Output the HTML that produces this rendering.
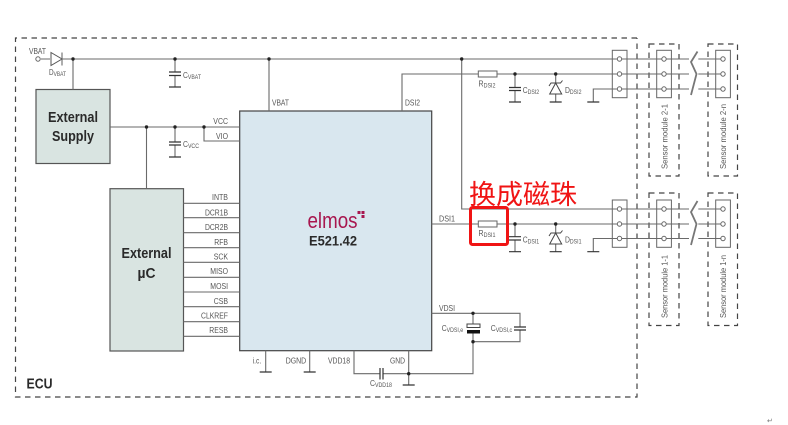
<!DOCTYPE html>
<html><head><meta charset="utf-8">
<style>
html,body{margin:0;padding:0;background:#fff;width:788px;height:425px;overflow:hidden}
svg{display:block;filter:blur(.3px)}
text{font-family:"Liberation Sans",Arial,sans-serif;font-size:8.5px;fill:#555}
.b{font-weight:bold;fill:#2a2a2a;font-size:14.5px}
.s{font-size:6.5px}
.l{stroke:#6a6a6a;stroke-width:1.1;fill:none}
.k{stroke:#333;stroke-width:1.2;fill:none}
.d{stroke:#444;stroke-width:1.2;fill:none;stroke-dasharray:5.5 4.5}
.j{fill:#222}
.c{fill:#fff;stroke:#666;stroke-width:1}
</style></head><body>
<svg width="788" height="425" viewBox="0 0 788 425" xmlns="http://www.w3.org/2000/svg">
<rect width="788" height="425" fill="#fff"/>
<!-- dashed frames -->
<path class="d" d="M637 38H15.5V397H637V38"/>
<rect class="d" x="649" y="44" width="30" height="132"/>
<rect class="d" x="708" y="44" width="29.500" height="132"/>
<rect class="d" x="649" y="193" width="30" height="132.500"/>
<rect class="d" x="708" y="193" width="29.500" height="132.500"/>

<!-- boxes -->
<rect x="36" y="89.500" width="74" height="74" fill="#d9e4e1" stroke="#555" stroke-width="1.200"/>
<rect x="110" y="188.700" width="73.500" height="162.300" fill="#d9e4e1" stroke="#555" stroke-width="1.200"/>
<rect x="239.700" y="111" width="192" height="239.700" fill="#d9e7ef" stroke="#444" stroke-width="1.200"/>

<!-- wires -->
<path class="l" d="M41 59H50M62 59H612M73 59V89.500M269 59V111M175 59V72M175 75.500V87"/>
<path class="l" d="M110 127H239.700M146.500 127V188.700M175 127V142M175 145V157M204 127V141H239.700"/>
<path class="l" d="M183.500 203.300H239.700M183.500 217.700H239.700M183.500 232.700H239.700M183.500 247.700H239.700M183.500 262.300H239.700M183.500 277.300H239.700M183.500 292H239.700M183.500 306.700H239.700M183.500 321.700H239.700M183.500 336.300H239.700"/>
<path class="l" d="M402 111V74H478M497 74H612M515 74V87.500M515 90.500V102M555.700 74V102"/>
<path class="l" d="M461.700 59V209H612M593.300 102V89H612"/>
<path class="l" d="M431.700 224H478M497 224H612M515 224V236.700M515 240V251.700M555.700 224V251.700"/>
<path class="l" d="M593.300 251.700V238.500H612"/>
<path class="l" d="M431.700 313.300H520V327M520 330V341.700H473M473 313.300V324M473 333V373.700H383M380 373.700H354V350.700M408.700 350.700V385M265.700 350.700V372M309.700 350.700V372"/>
<!-- through connectors -->
<path class="l" d="M612 59H689M612 74H689M612 89H689M698.300 59H723M698.300 74H723M698.300 89H723"/>
<path class="l" d="M612 209H689M612 224H689M612 238.500H689M698.300 209H723M698.300 224H723M698.300 238.500H723"/>
<!-- break marks -->
<path d="M697.500 51.500L691 62L696.500 74L691 95" fill="none" stroke="#777" stroke-width="1.800"/>
<path d="M697.500 201L691 212L696.500 224L691 245" fill="none" stroke="#777" stroke-width="1.800"/>

<!-- grounds -->
<path class="k" d="M169 87H181M169 157H181M509 102H521M549.700 102H561.700M587.300 102H599.300M509 251.700H521M549.700 251.700H561.700M587.300 251.700H599.300M402.700 385H414.700M259.700 372H271.700M303.700 372H315.700"/>
<!-- caps -->
<path class="k" d="M169 72H181M169 75.500H181M169 142H181M169 145H181M509 87.500H521M509 90.500H521M509 236.700H521M509 240H521M514 327H526M514 330H526M380 368V379.500M383 368V379.500"/>
<rect x="467" y="324" width="13" height="3.500" fill="#fff" stroke="#444"/>
<rect x="467" y="330" width="13" height="3.500" fill="#111"/>

<!-- resistors -->
<rect x="478.300" y="71" width="18.700" height="6" fill="#fff" stroke="#666"/>
<rect x="478.300" y="221" width="18.700" height="6" fill="#fff" stroke="#666"/>

<!-- diodes -->
<path d="M51 52.500L62 59L51 65.500Z" fill="#fff" stroke="#555"/><path class="l" d="M62 52.500V65.500"/>
<g fill="#fff" stroke="#444" stroke-width="1">
<path d="M555.700 83L549.700 94H561.700Z"/><path d="M549 86L551 83H560.500L562.500 80.500" fill="none"/>
<path d="M555.700 233L549.700 244H561.700Z"/><path d="M549 236L551 233H560.500L562.500 230.500" fill="none"/>
</g>

<!-- junctions -->
<g class="j">
<circle cx="73" cy="59" r="1.700"/><circle cx="175" cy="59" r="1.700"/><circle cx="269" cy="59" r="1.700"/><circle cx="461.700" cy="59" r="1.700"/>
<circle cx="146.500" cy="127" r="1.700"/><circle cx="175" cy="127" r="1.700"/><circle cx="204" cy="127" r="1.700"/>
<circle cx="515" cy="74" r="1.700"/><circle cx="555.700" cy="74" r="1.700"/><circle cx="515" cy="224" r="1.700"/><circle cx="555.700" cy="224" r="1.700"/>
<circle cx="473" cy="313.300" r="1.700"/><circle cx="473" cy="341.700" r="1.700"/><circle cx="408.700" cy="373.700" r="1.700"/>
</g>

<!-- connectors -->
<g fill="none" stroke="#666" stroke-width="1">
<rect x="612.300" y="50.300" width="14.700" height="47.400"/><rect x="656.700" y="50.300" width="14.700" height="47.400"/><rect x="715.700" y="50.300" width="14.700" height="47.400"/>
<rect x="612.300" y="200" width="14.700" height="47.300"/><rect x="656.700" y="200" width="14.700" height="47.300"/><rect x="715.700" y="200" width="14.700" height="47.300"/>
</g>
<g class="c">
<circle cx="38" cy="59" r="2.200"/>
<circle cx="619.500" cy="59" r="2.200"/><circle cx="619.500" cy="74" r="2.200"/><circle cx="619.500" cy="89" r="2.200"/>
<circle cx="664" cy="59" r="2.200"/><circle cx="664" cy="74" r="2.200"/><circle cx="664" cy="89" r="2.200"/>
<circle cx="723" cy="59" r="2.200"/><circle cx="723" cy="74" r="2.200"/><circle cx="723" cy="89" r="2.200"/>
<circle cx="619.500" cy="209" r="2.200"/><circle cx="619.500" cy="224" r="2.200"/><circle cx="619.500" cy="238.500" r="2.200"/>
<circle cx="664" cy="209" r="2.200"/><circle cx="664" cy="224" r="2.200"/><circle cx="664" cy="238.500" r="2.200"/>
<circle cx="723" cy="209" r="2.200"/><circle cx="723" cy="224" r="2.200"/><circle cx="723" cy="238.500" r="2.200"/>
</g>

<!-- big labels -->
<text class="b" x="73" y="122" text-anchor="middle" textLength="50" lengthAdjust="spacingAndGlyphs">External</text>
<text class="b" x="73" y="141" text-anchor="middle" textLength="42" lengthAdjust="spacingAndGlyphs">Supply</text>
<text class="b" x="146.500" y="258" text-anchor="middle" textLength="50" lengthAdjust="spacingAndGlyphs">External</text>
<text class="b" x="146.500" y="278" text-anchor="middle" textLength="18" lengthAdjust="spacingAndGlyphs">µC</text>
<text class="b" x="26.500" y="388.700" textLength="26" lengthAdjust="spacingAndGlyphs">ECU</text>
<text x="307.500" y="228" style="font-size:22px;fill:#a8174f" textLength="50" lengthAdjust="spacingAndGlyphs">elmos</text>
<path d="M357.500 211h3v3h-3zM361.500 211h3v3h-3zM361.500 215h3v3h-3z" fill="#a8174f"/>
<text class="b" x="309" y="245.700" style="font-size:14px" textLength="48" lengthAdjust="spacingAndGlyphs">E521.42</text>

<!-- small labels -->
<text x="29" y="54" textLength="17" lengthAdjust="spacingAndGlyphs">VBAT</text>
<text x="49" y="75" textLength="17" lengthAdjust="spacingAndGlyphs">D<tspan class="s" dy="1">VBAT</tspan></text>
<text x="183" y="78" textLength="18" lengthAdjust="spacingAndGlyphs">C<tspan class="s" dy="1">VBAT</tspan></text>
<text x="183" y="147" textLength="16" lengthAdjust="spacingAndGlyphs">C<tspan class="s" dy="1">VCC</tspan></text>
<g lengthAdjust="spacingAndGlyphs">
<text x="213.300" y="124" textLength="14.700" lengthAdjust="spacingAndGlyphs">VCC</text>
<text x="216" y="139" textLength="12" lengthAdjust="spacingAndGlyphs">VIO</text>
<text x="212" y="200" textLength="16" lengthAdjust="spacingAndGlyphs">INTB</text>
<text x="205" y="215.700" textLength="23" lengthAdjust="spacingAndGlyphs">DCR1B</text>
<text x="205" y="230" textLength="23" lengthAdjust="spacingAndGlyphs">DCR2B</text>
<text x="214.300" y="245" textLength="13.700" lengthAdjust="spacingAndGlyphs">RFB</text>
<text x="213.700" y="259.500" textLength="14.300" lengthAdjust="spacingAndGlyphs">SCK</text>
<text x="210.300" y="274" textLength="17.700" lengthAdjust="spacingAndGlyphs">MISO</text>
<text x="210.300" y="289" textLength="17.700" lengthAdjust="spacingAndGlyphs">MOSI</text>
<text x="213.700" y="304" textLength="14.300" lengthAdjust="spacingAndGlyphs">CSB</text>
<text x="201" y="318.500" textLength="27" lengthAdjust="spacingAndGlyphs">CLKREF</text>
<text x="209.300" y="333" textLength="18.700" lengthAdjust="spacingAndGlyphs">RESB</text>
</g>
<text x="272" y="105.700" textLength="17" lengthAdjust="spacingAndGlyphs">VBAT</text>
<text x="405" y="105.700" textLength="15" lengthAdjust="spacingAndGlyphs">DSI2</text>
<text x="439" y="221.700" textLength="16" lengthAdjust="spacingAndGlyphs">DSI1</text>
<text x="439" y="311" textLength="16" lengthAdjust="spacingAndGlyphs">VDSI</text>
<text x="252.700" y="363.300" textLength="8.500" lengthAdjust="spacingAndGlyphs">i.c.</text>
<text x="285.700" y="363.300" textLength="20.500" lengthAdjust="spacingAndGlyphs">DGND</text>
<text x="328" y="363.300" textLength="22" lengthAdjust="spacingAndGlyphs">VDD18</text>
<text x="390" y="363.300" textLength="15" lengthAdjust="spacingAndGlyphs">GND</text>
<text x="370" y="386" textLength="22" lengthAdjust="spacingAndGlyphs">C<tspan class="s" dy="1">VDD18</tspan></text>
<text x="441.700" y="331" textLength="21.500" lengthAdjust="spacingAndGlyphs">C<tspan class="s" dy="1">VDSI,e</tspan></text>
<text x="490.700" y="331" textLength="21.500" lengthAdjust="spacingAndGlyphs">C<tspan class="s" dy="1">VDSI,c</tspan></text>
<text x="478.500" y="86.700" textLength="17" lengthAdjust="spacingAndGlyphs">R<tspan class="s" dy="1">DSI2</tspan></text>
<text x="522.700" y="93" textLength="16.500" lengthAdjust="spacingAndGlyphs">C<tspan class="s" dy="1">DSI2</tspan></text>
<text x="565" y="93" textLength="16.500" lengthAdjust="spacingAndGlyphs">D<tspan class="s" dy="1">DSI2</tspan></text>
<text x="478.500" y="236" textLength="17" lengthAdjust="spacingAndGlyphs">R<tspan class="s" dy="1">DSI1</tspan></text>
<text x="522.700" y="242.700" textLength="16.500" lengthAdjust="spacingAndGlyphs">C<tspan class="s" dy="1">DSI1</tspan></text>
<text x="565" y="242.700" textLength="16.500" lengthAdjust="spacingAndGlyphs">D<tspan class="s" dy="1">DSI1</tspan></text>

<!-- rotated -->
<text transform="translate(667.500 169) rotate(-90)" textLength="65" lengthAdjust="spacingAndGlyphs">Sensor module 2-1</text>
<text transform="translate(726 169) rotate(-90)" textLength="65" lengthAdjust="spacingAndGlyphs">Sensor module 2-n</text>
<text transform="translate(667.500 318) rotate(-90)" textLength="63" lengthAdjust="spacingAndGlyphs">Sensor module 1-1</text>
<text transform="translate(726 318) rotate(-90)" textLength="63" lengthAdjust="spacingAndGlyphs">Sensor module 1-n</text>

<!-- red annotation -->
<rect x="470.500" y="207.500" width="37" height="37" rx="2" fill="none" stroke="#f01414" stroke-width="3"/>
<text x="469" y="204" style="font-family:'Liberation Sans','Noto Sans CJK SC',sans-serif;font-size:27px;fill:#f01414" textLength="108" lengthAdjust="spacingAndGlyphs">换成磁珠</text>

<text x="767" y="423" style="font-size:7px;fill:#777">↵</text>
</svg>
</body></html>
